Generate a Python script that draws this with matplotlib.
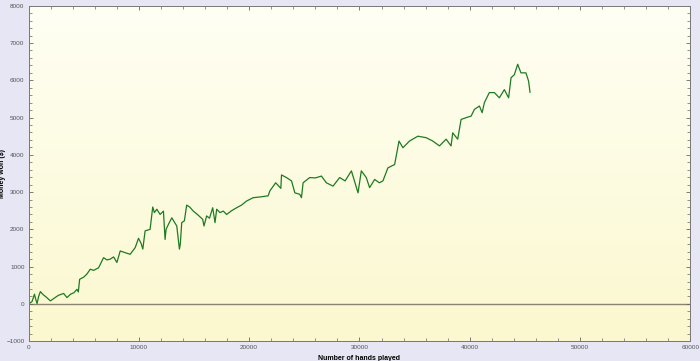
import numpy as np
import matplotlib
matplotlib.use("Agg")
from matplotlib import pyplot as plt
from matplotlib.colors import LinearSegmentedColormap

plt.rcParams["font.family"] = ["Liberation Sans", "DejaVu Sans"]

# hands played vs money won
hands = [0, 300, 520, 640, 760, 900, 1060, 1300, 1600, 1970, 2300, 2700, 3170, 3470,
         3800, 4100, 4380, 4500, 4620, 5000, 5280, 5580, 5900, 6340, 6790, 7100,
         7390, 7700, 8000, 8300, 8700, 9200, 9660, 9960, 10200, 10350, 10560, 11010,
         11250, 11400, 11620, 11920, 12220, 12370, 12460, 12700, 12980, 13200, 13430,
         13670, 13750, 13880, 14120, 14330, 14600, 14930, 15300, 15780, 15900, 16140,
         16400, 16690, 16900, 17050, 17350, 17650, 17950, 18400, 18860, 19300, 19760,
         20360, 21000, 21720, 21870, 22400, 22870, 22930, 23380, 23840, 24140, 24590,
         24740, 24890, 25490, 26000, 26550, 27000, 27600, 28210, 28700, 29270, 29870,
         30170, 30620, 30920, 31380, 31800, 32130, 32580, 33190, 33590, 33940, 34540,
         35300, 36050, 36650, 37260, 37860, 38310, 38460, 38910, 39220, 39700, 40130,
         40430, 40880, 41130, 41330, 41780, 42240, 42690, 43140, 43530, 43750, 44050,
         44350, 44650, 45100, 45340, 45470]
money = [0, 60, 260, 120, 10, 200, 330, 250, 180, 80, 150, 230, 280, 170,
         260, 300, 390, 320, 660, 720, 800, 930, 900, 970, 1240, 1180,
         1200, 1260, 1110, 1420, 1380, 1330, 1510, 1760, 1620, 1470, 1960, 2000,
         2600, 2450, 2540, 2400, 2490, 1730, 2000, 2150, 2310, 2200, 2090,
         1470, 1600, 2180, 2230, 2650, 2600, 2490, 2400, 2270, 2090, 2360,
         2300, 2580, 2180, 2540, 2450, 2490, 2400, 2500, 2580, 2650, 2760,
         2850, 2870, 2900, 3030, 3250, 3100, 3460, 3390, 3300, 2980, 2940,
         2850, 3250, 3390, 3380, 3430, 3250, 3160, 3390, 3300, 3570, 2980,
         3570, 3390, 3120, 3340, 3250, 3300, 3650, 3740, 4370, 4190, 4370,
         4500, 4460, 4370, 4240, 4420, 4240, 4590, 4420, 4950, 5000, 5040,
         5220, 5310, 5130, 5400, 5670, 5670, 5530, 5750, 5530, 6070, 6150,
         6430, 6200, 6200, 5980, 5680]

fig = plt.figure(figsize=(7.0, 3.61), dpi=100)
fig.patch.set_facecolor("#e6e6f5")
ax = fig.add_axes([0.041, 0.055, 0.945, 0.929])

# pale yellow gradient behind the plot, whiter at the top
cmap = LinearSegmentedColormap.from_list("bg", ["#fffff4", "#fbf8cf"])
grad = np.linspace(0, 1, 256).reshape(-1, 1)
ax.imshow(grad, aspect="auto", cmap=cmap, extent=[0, 60000, -1000, 8000],
          origin="upper", zorder=0, interpolation="bicubic")

ax.axhline(0, color="#8a8470", lw=1.0, zorder=1)
ax.plot(hands, money, color="#1f7a22", lw=0.9, zorder=2)

ax.set_xlim(0, 60000)
ax.set_ylim(-1000, 8000)
ax.set_xticks(np.arange(0, 60001, 10000))
ax.set_xticks(np.arange(0, 60001, 2000), minor=True)
ax.set_yticks(np.arange(-1000, 8001, 1000))
ax.set_yticks(np.arange(-1000, 8001, 200), minor=True)
ax.tick_params(which="both", direction="in", top=True, right=True,
               color="#666666", labelsize=4.6, labelcolor="#555555", pad=3)
ax.tick_params(which="major", length=3, width=0.6)
ax.tick_params(which="minor", length=2, width=0.5)
for s in ax.spines.values():
    s.set_color("#777777")
    s.set_linewidth(0.7)

ax.set_xlabel("Number of hands played", fontsize=5, fontweight="bold")
ax.xaxis.set_label_coords(0.5, -0.042)
ax.set_ylabel("Money won ($)", fontsize=5, fontweight="bold")
ax.yaxis.set_label_coords(-0.034, 0.5)

fig.savefig("out.png", dpi=100, facecolor=fig.get_facecolor())
